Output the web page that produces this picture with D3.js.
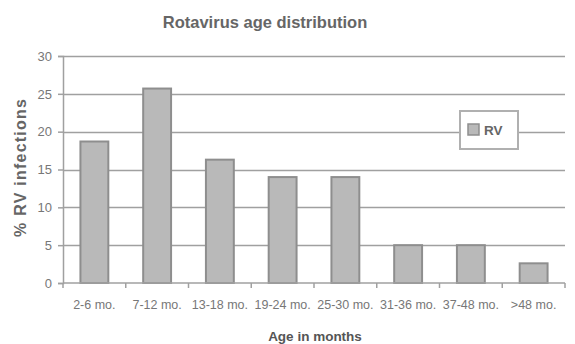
<!DOCTYPE html>
<html>
<head>
<meta charset="utf-8">
<script src="https://cdn.jsdelivr.net/npm/d3@7"></script>
<style>
  html, body { margin: 0; padding: 0; background: #fff; }
  svg { display: block; font-family: "Liberation Sans", Arial, sans-serif; }
</style>
</head>
<body>
<svg id="chart" width="575" height="344"></svg>
<script>
// Rotavirus infections by age group (% of RV cases)
const categories = ["2-6 mo.", "7-12 mo.", "13-18 mo.", "19-24 mo.", "25-30 mo.", "31-36 mo.", "37-48 mo.", ">48 mo."];
const rvValues = [18.7, 25.7, 16.3, 14.0, 14.0, 5.0, 5.0, 2.6];
const yTicks = [0, 5, 10, 15, 20, 25, 30];
const seriesName = "RV";

const svg = d3.select("#chart");
const plotLeft = 63, plotRight = 565, plotTop = 56, plotBottom = 283;

const x = d3.scaleBand().domain(categories).range([plotLeft, plotRight]).paddingInner(0.5556).paddingOuter(0.2778);
const y = d3.scaleLinear().domain([0, 30]).range([plotBottom, plotTop]);

// horizontal gridlines
svg.append("g").selectAll("line").data(yTicks.filter(d => d > 0)).join("line")
  .attr("x1", plotLeft).attr("x2", plotRight)
  .attr("y1", d => Math.round(y(d)) + 0.5).attr("y2", d => Math.round(y(d)) + 0.5)
  .attr("stroke", "#a0a0a0").attr("stroke-width", 1.5);

// bars
svg.append("g").selectAll("rect").data(rvValues).join("rect")
  .attr("x", (d, i) => x(categories[i]))
  .attr("y", d => y(d))
  .attr("width", x.bandwidth())
  .attr("height", d => y(0) - y(d))
  .attr("fill", "#b9b9b9")
  .attr("stroke", "#8e8e8e").attr("stroke-width", 2);

// y axis
const yAxis = d3.axisLeft(y).tickValues(yTicks).tickSize(5).tickPadding(6);
const gy = svg.append("g").attr("transform", `translate(${plotLeft},0)`).call(yAxis);
gy.select(".domain").attr("stroke", "#a0a0a0").attr("stroke-width", 1.5);
gy.selectAll(".tick line").attr("stroke", "#a0a0a0").attr("stroke-width", 1.5);
gy.selectAll(".tick text").attr("font-size", 13).attr("fill", "#777").attr("font-family", "Liberation Sans, Arial, sans-serif");

// x axis with ticks at category boundaries
const gx = svg.append("g").attr("transform", `translate(0,${plotBottom})`);
gx.append("line").attr("x1", plotLeft).attr("x2", plotRight).attr("y1", 0).attr("y2", 0)
  .attr("stroke", "#a0a0a0").attr("stroke-width", 1.5);
const bounds = d3.range(categories.length + 1).map(i => plotLeft + i * (plotRight - plotLeft) / categories.length);
gx.selectAll("line.tk").data(bounds).join("line").attr("class", "tk")
  .attr("x1", d => d).attr("x2", d => d).attr("y1", 0).attr("y2", 5)
  .attr("stroke", "#a0a0a0").attr("stroke-width", 1.5);
gx.selectAll("text").data(categories).join("text")
  .attr("x", d => x(d) + x.bandwidth() / 2).attr("y", 26)
  .attr("text-anchor", "middle").attr("font-size", 12.5).attr("fill", "#777")
  .text(d => d);

// titles
svg.append("text").attr("x", 265).attr("y", 28).attr("text-anchor", "middle")
  .attr("font-size", 16.5).attr("font-weight", "bold").attr("fill", "#666")
  .text("Rotavirus age distribution");
svg.append("text").attr("x", 315).attr("y", 341).attr("text-anchor", "middle")
  .attr("font-size", 13.5).attr("font-weight", "bold").attr("fill", "#555")
  .text("Age in months");
svg.append("text").attr("transform", "translate(26,168) rotate(-90)").attr("text-anchor", "middle")
  .attr("font-size", 16).attr("font-weight", "bold").attr("fill", "#666")
  .attr("textLength", 138).attr("lengthAdjust", "spacing")
  .text("% RV infections");

// legend
const lg = svg.append("g").attr("transform", "translate(460,111)");
lg.append("rect").attr("x", 0).attr("y", 0).attr("width", 58).attr("height", 38)
  .attr("fill", "#fff").attr("stroke", "#b0b0b0").attr("stroke-width", 2);
lg.append("rect").attr("x", 8).attr("y", 13).attr("width", 11).attr("height", 11)
  .attr("fill", "#b9b9b9").attr("stroke", "#8e8e8e").attr("stroke-width", 1.5);
lg.append("text").attr("x", 24).attr("y", 24).attr("font-size", 13.5).attr("font-weight", "bold").attr("fill", "#666")
  .text(seriesName);
</script>
</body>
</html>
